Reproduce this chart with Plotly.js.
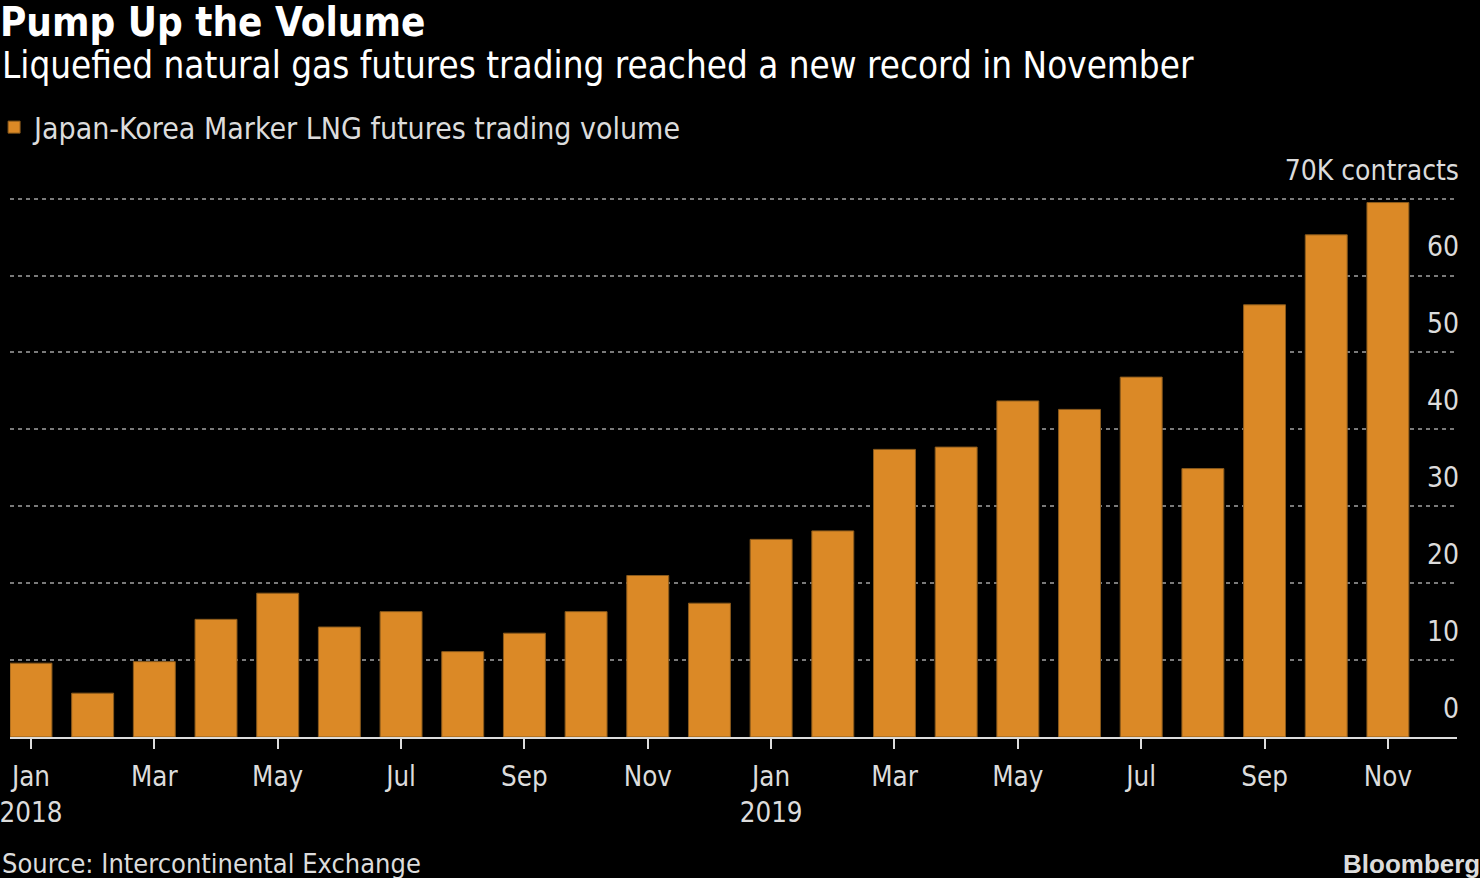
<!DOCTYPE html>
<html>
<head>
<meta charset="utf-8">
<script src="https://cdn.plot.ly/plotly-3.0.1.min.js"></script>
<style>
html,body{margin:0;padding:0;background:#000;}
#chart{width:1480px;height:878px;}
</style>
</head>
<body>
<div id="chart"></div>
<script>
const months = ["2018-01","2018-02","2018-03","2018-04","2018-05","2018-06","2018-07","2018-08","2018-09","2018-10","2018-11","2018-12",
                "2019-01","2019-02","2019-03","2019-04","2019-05","2019-06","2019-07","2019-08","2019-09","2019-10","2019-11"];
const volumeK = [9.6,5.7,9.8,15.3,18.7,14.3,16.3,11.1,13.5,16.3,21.0,17.4,
                 25.7,26.8,37.4,37.7,43.7,42.6,46.8,34.9,56.2,65.3,69.5];
const xTickVals = ["2018-01","2018-03","2018-05","2018-07","2018-09","2018-11","2019-01","2019-03","2019-05","2019-07","2019-09","2019-11"];
const xTickText = ["Jan<br>2018","Mar","May","Jul","Sep","Nov","Jan<br>2019","Mar","May","Jul","Sep","Nov"];
const yTickVals = [0,10,20,30,40,50,60,70];
const yTickText = ["0","10","20","30","40","50","60","70K contracts"];

const FONT = "'DejaVu Sans Condensed', 'Liberation Sans Narrow', 'DejaVu Sans', sans-serif";
const TXT = "#dcdcdc";

const trace = {
  type: "bar",
  x: months,
  y: volumeK,
  name: "Japan-Korea Marker LNG futures trading volume",
  marker: {color: "#db8926", line: {color: "#8a5a1c", width: 1}},
  width: 0.68,
  hoverinfo: "x+y"
};

const layout = {
  width: 1480, height: 878,
  paper_bgcolor: "#000", plot_bgcolor: "#000",
  margin: {l: 10, r: 23, t: 191, b: 141, autoexpand: false},
  font: {family: FONT, color: TXT, size: 26},
  showlegend: true,
  legend: {x: -0.011, y: 1.117, xanchor: "left", yanchor: "middle", orientation: "h",
           font: {family: FONT, size: 30, color: TXT}, bgcolor: "rgba(0,0,0,0)",
           itemwidth: 30},
  title: {text: "<b>Pump Up the Volume</b>", x: 0, xanchor: "left", xref: "container",
          y: 0.975, yanchor: "middle", yref: "container", pad: {l: 0, r: 0, t: 0, b: 0},
          font: {family: FONT, size: 40, color: "#ffffff"}},
  xaxis: {
    type: "category",
    automargin: false,
    range: [-0.34, 23.12],
    tickmode: "array", tickvals: xTickVals, ticktext: xTickText,
    ticks: "outside", ticklen: 10, tickwidth: 2, tickcolor: TXT,
    ticklabelstandoff: 4,
    showline: true, linecolor: TXT, linewidth: 2,
    showgrid: false, zeroline: false,
    tickfont: {family: FONT, size: 27.5, color: TXT},
    fixedrange: true
  },
  yaxis: {
    automargin: false,
    range: [0, 71],
    side: "right",
    tickmode: "array", tickvals: yTickVals, ticktext: yTickText,
    ticklabelposition: "inside",
    ticklabeloverflow: "allow",
    ticklabelshift: -29,
    ticklabelstandoff: -5,
    ticks: "",
    showgrid: true, gridcolor: "#7a7a7a", gridwidth: 2, griddash: "4px,4px",
    zeroline: false, showline: false,
    tickfont: {family: FONT, size: 28, color: TXT},
    fixedrange: true
  },
  annotations: [
    {text: "Liquefied natural gas futures trading reached a new record in November",
     xref: "paper", yref: "paper", x: -0.007, y: 1.230, xanchor: "left", yanchor: "middle",
     showarrow: false, font: {family: FONT, size: 36.5, color: "#ffffff"}},
    {text: "Source: Intercontinental Exchange",
     xref: "paper", yref: "paper", x: -0.007, y: -0.232, xanchor: "left", yanchor: "middle",
     showarrow: false, font: {family: FONT, size: 27, color: TXT}},
    {text: "<b>Bloomberg</b>",
     xref: "paper", yref: "paper", x: 1.017, y: -0.232, xanchor: "right", yanchor: "middle",
     showarrow: false, font: {family: "'Liberation Sans', Arial, sans-serif", size: 26, color: TXT}}
  ]
};

Plotly.newPlot("chart", [trace], layout, {displayModeBar: false});
</script>
</body>
</html>
